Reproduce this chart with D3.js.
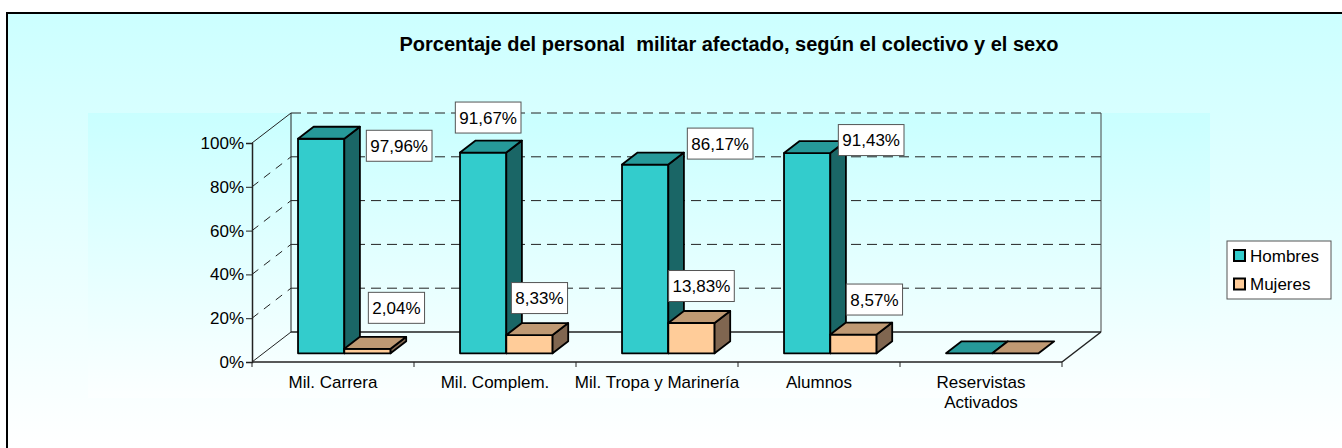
<!DOCTYPE html>
<html>
<head>
<meta charset="utf-8">
<script src="https://cdn.jsdelivr.net/npm/d3@7"></script>
<style>
  body { margin: 0; background: #ffffff; }
  svg { display: block; font-family: Arial, "Liberation Sans", sans-serif; }
</style>
</head>
<body>
<div id="chart"></div>
<script>
// data
var categories = ["Mil. Carrera", "Mil. Complem.", "Mil. Tropa y Marinería", "Alumnos", "Reservistas Activados"]
var series = ["Hombres", "Mujeres"]
var hombres = [97.96, 91.67, 86.17, 91.43, 0]
var mujeres = [2.04, 8.33, 13.83, 8.57, 0]
var yTicks = [0, 20, 40, 60, 80, 100]
var title = "Porcentaje del personal  militar afectado, según el colectivo y el sexo"

// label nudges (layout, px) relative to bar top-front centre, as placed in the original
var labelNudgeH = [[78, 7], [5, -35], [75, -21], [64, -13]]
var labelNudgeM = [[29, -41], [10, -37], [10, -37], [21, -35]]

var width = 1342, height = 448

// front face of the 3d box and the depth vector to the back wall
var front = {left: 252, right: 1062, bottom: 362, top: 143}
var depth = {dx: 39, dy: -30}
var barDepth = [0.29, 0.69]

var colors = {
    Hombres: {front: "#33CCCC", top: "#269999", side: "#1A6666"},
    Mujeres: {front: "#FFCC99", top: "#BF9973", side: "#806650"}
}

var x = d3.scaleBand()
    .domain(categories)
    .range([front.left, front.right])

var xs = d3.scaleBand()
    .domain(series)
    .range([0, x.bandwidth()])
    .paddingOuter(0.75)

var y = d3.scaleLinear()
    .domain([0, 100])
    .range([front.bottom, front.top])

function proj(px, v, d) {
    return [px + d * depth.dx, y(v) + d * depth.dy]
}

var svg = d3.select("#chart")
    .append("svg")
    .attr("width", width)
    .attr("height", height)

var defs = svg.append("defs")
var g1 = defs.append("linearGradient").attr("id", "bgGrad")
    .attr("gradientUnits", "userSpaceOnUse")
    .attr("x1", 0).attr("y1", 13).attr("x2", 0).attr("y2", 448)
g1.append("stop").attr("offset", "0%").attr("stop-color", "#CCFFFF")
g1.append("stop").attr("offset", "100%").attr("stop-color", "#FFFFFF")
var g2 = defs.append("linearGradient").attr("id", "plotGrad")
    .attr("gradientUnits", "userSpaceOnUse")
    .attr("x1", 0).attr("y1", 113).attr("x2", 0).attr("y2", 398)
g2.append("stop").attr("offset", "0%").attr("stop-color", "#C9FFFF")
g2.append("stop").attr("offset", "100%").attr("stop-color", "#FCFFFF")

// outer chart area
svg.append("rect")
    .attr("x", 7).attr("y", 13)
    .attr("width", width + 10).attr("height", height + 10)
    .attr("fill", "url(#bgGrad)")
    .attr("stroke", "#000")
    .attr("stroke-width", 2)

// plot area
svg.append("rect")
    .attr("x", 88).attr("y", 113)
    .attr("width", 1122).attr("height", 285)
    .attr("fill", "url(#plotGrad)")

svg.append("text")
    .attr("x", 729)
    .attr("y", 51)
    .attr("text-anchor", "middle")
    .style("font-size", "20px")
    .style("font-weight", "bold")
    .style("white-space", "pre")
    .text(title)

var walls = svg.append("g")

// back wall gridlines (dashed) and side wall gridlines
yTicks.forEach(function (t) {
    var a = proj(front.left, t, 1), b = proj(front.right, t, 1)
    if (t > 0) {
        walls.append("line")
            .attr("x1", a[0]).attr("y1", a[1]).attr("x2", b[0]).attr("y2", b[1])
            .attr("stroke", "#222").attr("stroke-width", 1)
            .attr("stroke-dasharray", "10,6")
    }
    var f = proj(front.left, t, 0)
    walls.append("line")
        .attr("x1", f[0]).attr("y1", f[1]).attr("x2", a[0]).attr("y2", a[1])
        .attr("stroke", "#222").attr("stroke-width", 1)
        .attr("stroke-dasharray", (t == 0 || t == 100) ? null : "8,7")
})

// wall and floor edges
var bl = proj(front.left, 0, 1), tl = proj(front.left, 100, 1)
var br = proj(front.right, 0, 1), tr = proj(front.right, 100, 1)
var fr = proj(front.right, 0, 0)
walls.append("line").attr("x1", bl[0]).attr("y1", bl[1]).attr("x2", tl[0]).attr("y2", tl[1]).attr("stroke", "#222")
walls.append("line").attr("x1", br[0]).attr("y1", br[1]).attr("x2", tr[0]).attr("y2", tr[1]).attr("stroke", "#444")
walls.append("line").attr("x1", bl[0]).attr("y1", bl[1]).attr("x2", br[0]).attr("y2", br[1]).attr("stroke", "#222").attr("stroke-width", 1.5)
walls.append("line").attr("x1", br[0]).attr("y1", br[1]).attr("x2", fr[0]).attr("y2", fr[1]).attr("stroke", "#222").attr("stroke-width", 1.5)

// axes
var yAxis = d3.axisLeft(y)
    .tickValues(yTicks)
    .tickFormat(function (d) { return d + "%" })
    .tickSizeOuter(0)
    .tickSize(6)
    .tickPadding(2)

var yg = svg.append("g")
    .attr("transform", "translate(" + front.left + ",0)")
    .call(yAxis)
yg.selectAll("text").style("font-size", "17px").style("font-family", "Arial, 'Liberation Sans', sans-serif").attr("fill", "#000")
yg.selectAll("line").attr("stroke", "#222")
yg.select(".domain").attr("stroke", "#222").attr("stroke-width", 1.5)

var xg = svg.append("g")
xg.append("line")
    .attr("x1", front.left).attr("x2", front.right)
    .attr("y1", front.bottom).attr("y2", front.bottom)
    .attr("stroke", "#222").attr("stroke-width", 1.5)
var bounds = categories.map(function (c) { return x(c) }).concat([front.right])
xg.selectAll(".xtick")
    .data(bounds)
    .enter()
    .append("line")
    .attr("class", "xtick")
    .attr("x1", function (d) { return d }).attr("x2", function (d) { return d })
    .attr("y1", front.bottom).attr("y2", front.bottom + 5)
    .attr("stroke", "#222")

xg.selectAll(".xlabel")
    .data(categories)
    .enter()
    .append("text")
    .attr("class", "xlabel")
    .attr("text-anchor", "middle")
    .style("font-size", "17px")
    .each(function (c) {
        var words = c == "Reservistas Activados" ? ["Reservistas", "Activados"] : [c]
        var t = d3.select(this)
        words.forEach(function (w, i) {
            t.append("tspan")
                .attr("x", x(c) + x.bandwidth() / 2)
                .attr("y", front.bottom + 26 + i * 20)
                .text(w)
        })
    })

// bars
var bars = svg.append("g")
var labels = []

categories.forEach(function (c, i) {
    series.forEach(function (s) {
        var v = s == "Hombres" ? hombres[i] : mujeres[i]
        var x0 = x(c) + xs(s), x1 = x0 + xs.bandwidth()
        var d0 = barDepth[0], d1 = barDepth[1]
        var col = colors[s]
        var pts = function (arr) { return arr.map(function (p) { return p.join(",") }).join(" ") }

        if (v > 0) {
            // front
            bars.append("polygon")
                .attr("points", pts([proj(x0, 0, d0), proj(x1, 0, d0), proj(x1, v, d0), proj(x0, v, d0)]))
                .attr("fill", col.front).attr("stroke", "#000").attr("stroke-width", 1.8).attr("stroke-linejoin", "round")
            // side
            bars.append("polygon")
                .attr("points", pts([proj(x1, 0, d0), proj(x1, 0, d1), proj(x1, v, d1), proj(x1, v, d0)]))
                .attr("fill", col.side).attr("stroke", "#000").attr("stroke-width", 1.8).attr("stroke-linejoin", "round")
        }
        // top
        bars.append("polygon")
            .attr("points", pts([proj(x0, v, d0), proj(x1, v, d0), proj(x1, v, d1), proj(x0, v, d1)]))
            .attr("fill", col.top).attr("stroke", "#000").attr("stroke-width", 1.8).attr("stroke-linejoin", "round")

        if (v > 0) {
            var top = proj((x0 + x1) / 2, v, d0)
            var nudge = s == "Hombres" ? labelNudgeH[i] : labelNudgeM[i]
            labels.push({text: d3.format(".2f")(v).replace(".", ",") + "%", cx: top[0] + nudge[0], cy: top[1] + nudge[1]})
        }
    })
})

// data labels
var lg = svg.append("g")
labels.forEach(function (l) {
    var g = lg.append("g")
    var t = g.append("text")
        .attr("x", l.cx).attr("y", l.cy + 6)
        .attr("text-anchor", "middle")
        .style("font-size", "17px")
        .text(l.text)
    var w = t.node().getComputedTextLength() + 8
    g.insert("rect", "text")
        .attr("x", l.cx - w / 2).attr("y", l.cy - 15.5)
        .attr("width", w).attr("height", 31)
        .attr("fill", "#fff").attr("stroke", "#555").attr("stroke-width", 1)
})

// legend
var legend = svg.append("g").attr("transform", "translate(1227,241)")
legend.append("rect")
    .attr("width", 104).attr("height", 58)
    .attr("fill", "#fff").attr("stroke", "#555")
series.forEach(function (s, i) {
    legend.append("rect")
        .attr("x", 7).attr("y", 9 + i * 28.5)
        .attr("width", 11).attr("height", 11)
        .attr("fill", colors[s].front).attr("stroke", "#000").attr("stroke-width", 2)
    legend.append("text")
        .attr("x", 23).attr("y", 15 + i * 28.5)
        .attr("dy", "0.35em")
        .style("font-size", "17px")
        .text(s)
})
</script>
</body>
</html>
